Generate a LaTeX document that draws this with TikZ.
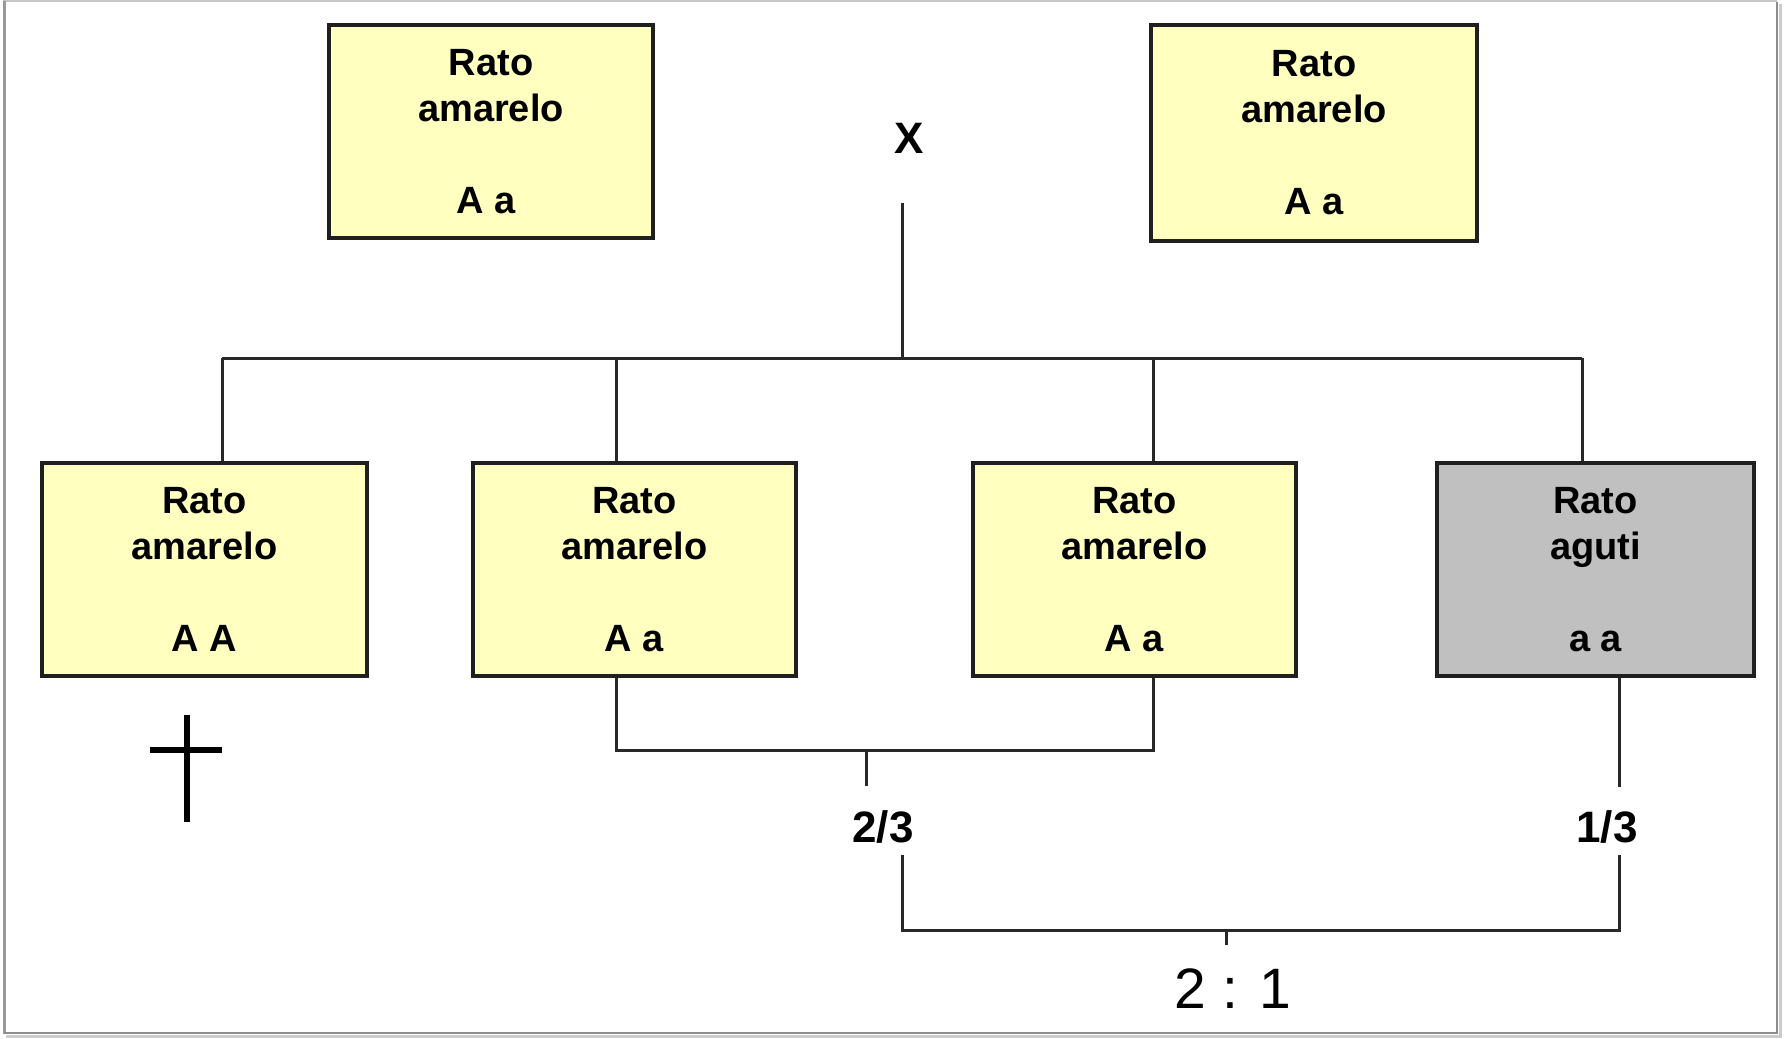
\documentclass[tikz,border=0pt]{standalone}
\usepackage{fontspec}
\setmainfont{Liberation Sans}
\definecolor{boxyellow}{RGB}{255,255,192}
\definecolor{boxgray}{RGB}{192,192,192}
\definecolor{linegray}{RGB}{40,40,40}
\begin{document}
\begin{tikzpicture}[x=1pt,y=-1pt,
  ratbox/.style={draw=black!88, line width=3.4pt, inner sep=0pt, align=center,
    minimum height=213pt, font=\bfseries\fontsize{38}{46}\selectfont},
  yel/.style={ratbox, fill=boxyellow},
  gry/.style={ratbox, fill=boxgray},
  conn/.style={draw=linegray, line width=3pt},
  frac/.style={anchor=base, inner sep=0pt, font=\bfseries\fontsize{44}{50}\selectfont},
]
\useasboundingbox (0,0) rectangle (1784,1038);
% outer frame with shadow
\draw[black!22, line width=1.5pt] (3,1) -- (1777,1);
\draw[black!40, line width=3pt] (4,1) -- (4,1034);
\draw[black!45, line width=2.5pt] (1777,2) -- (1777,1033) -- (4,1033);
\draw[black!20, line width=2.5pt] (1780.5,4) -- (1780.5,1036.5) -- (6,1036.5);

% parents
\node[yel, minimum width=324pt] (p1) at (491,131.5) {Rato\\amarelo\\[46pt]A a\hspace*{10pt}};
\node[yel, minimum width=326pt, minimum height=216pt] (p2) at (1314,133) {Rato\\amarelo\\[46pt]A a};
\node[anchor=base, inner sep=0pt, font=\bfseries\fontsize{44}{50}\selectfont] (cross) at (909,153) {X};

% offspring
\node[yel, minimum width=325pt] (b1) at (204.5,569.5) {Rato\\amarelo\\[46pt]A A};
\node[yel, minimum width=323pt] (b2) at (634.5,569.5) {Rato\\amarelo\\[46pt]A a};
\node[yel, minimum width=323pt] (b3) at (1134.5,569.5) {Rato\\amarelo\\[46pt]A a};
\node[gry, minimum width=317pt] (b4) at (1595.5,569.5) {Rato\\aguti\\[46pt]a a};

% fractions and ratio
\node[frac] (f23) at (883,842) {2/3};
\node[frac] (f13) at (1607,842) {1/3};
\node[anchor=base, inner sep=0pt, font=\fontsize{57}{64}\selectfont] (ratio) at (1233,1008) {2 : 1};

% cross tree
\coordinate (xtop) at (902,203);
\coordinate (hub) at (902,358);
\coordinate (d1) at (222,358);
\coordinate (d2) at (616,358);
\coordinate (d3) at (1153,358);
\coordinate (d4) at (1582,358);
\draw[conn] (xtop) -- (hub);
\draw[conn] (d1) -- (d4);
\draw[conn] (d1) -- (d1 |- b1.north);
\draw[conn] (d2) -- (d2 |- b2.north);
\draw[conn] (d3) -- (d3 |- b3.north);
\draw[conn] (d4) -- (d4 |- b4.north);

% heterozygotes bracket
\coordinate (m2) at (616,750);
\coordinate (m3) at (1153,750);
\coordinate (t1) at (866,750);
\coordinate (t1b) at (866,786);
\draw[conn] (m2 |- b2.south) -- (m2) -- (m3) -- (m3 |- b3.south);
\draw[conn] (t1) -- (t1b);

% aguti line
\coordinate (q4) at (1619,787);
\draw[conn] (q4 |- b4.south) -- (q4);

% ratio bracket
\coordinate (k1) at (902,855);
\coordinate (k2) at (902,930);
\coordinate (k3) at (1619,930);
\coordinate (k4) at (1619,855);
\coordinate (k5) at (1226,930);
\coordinate (k6) at (1226,945);
\draw[conn] (k1) -- (k2) -- (k3) -- (k4);
\draw[conn] (k5) -- (k6);

% dagger (lethal)
\draw[black, line width=6.5pt] (187,715) -- (187,822);
\draw[black, line width=6.5pt] (150,750) -- (222,750);
\end{tikzpicture}
\end{document}
